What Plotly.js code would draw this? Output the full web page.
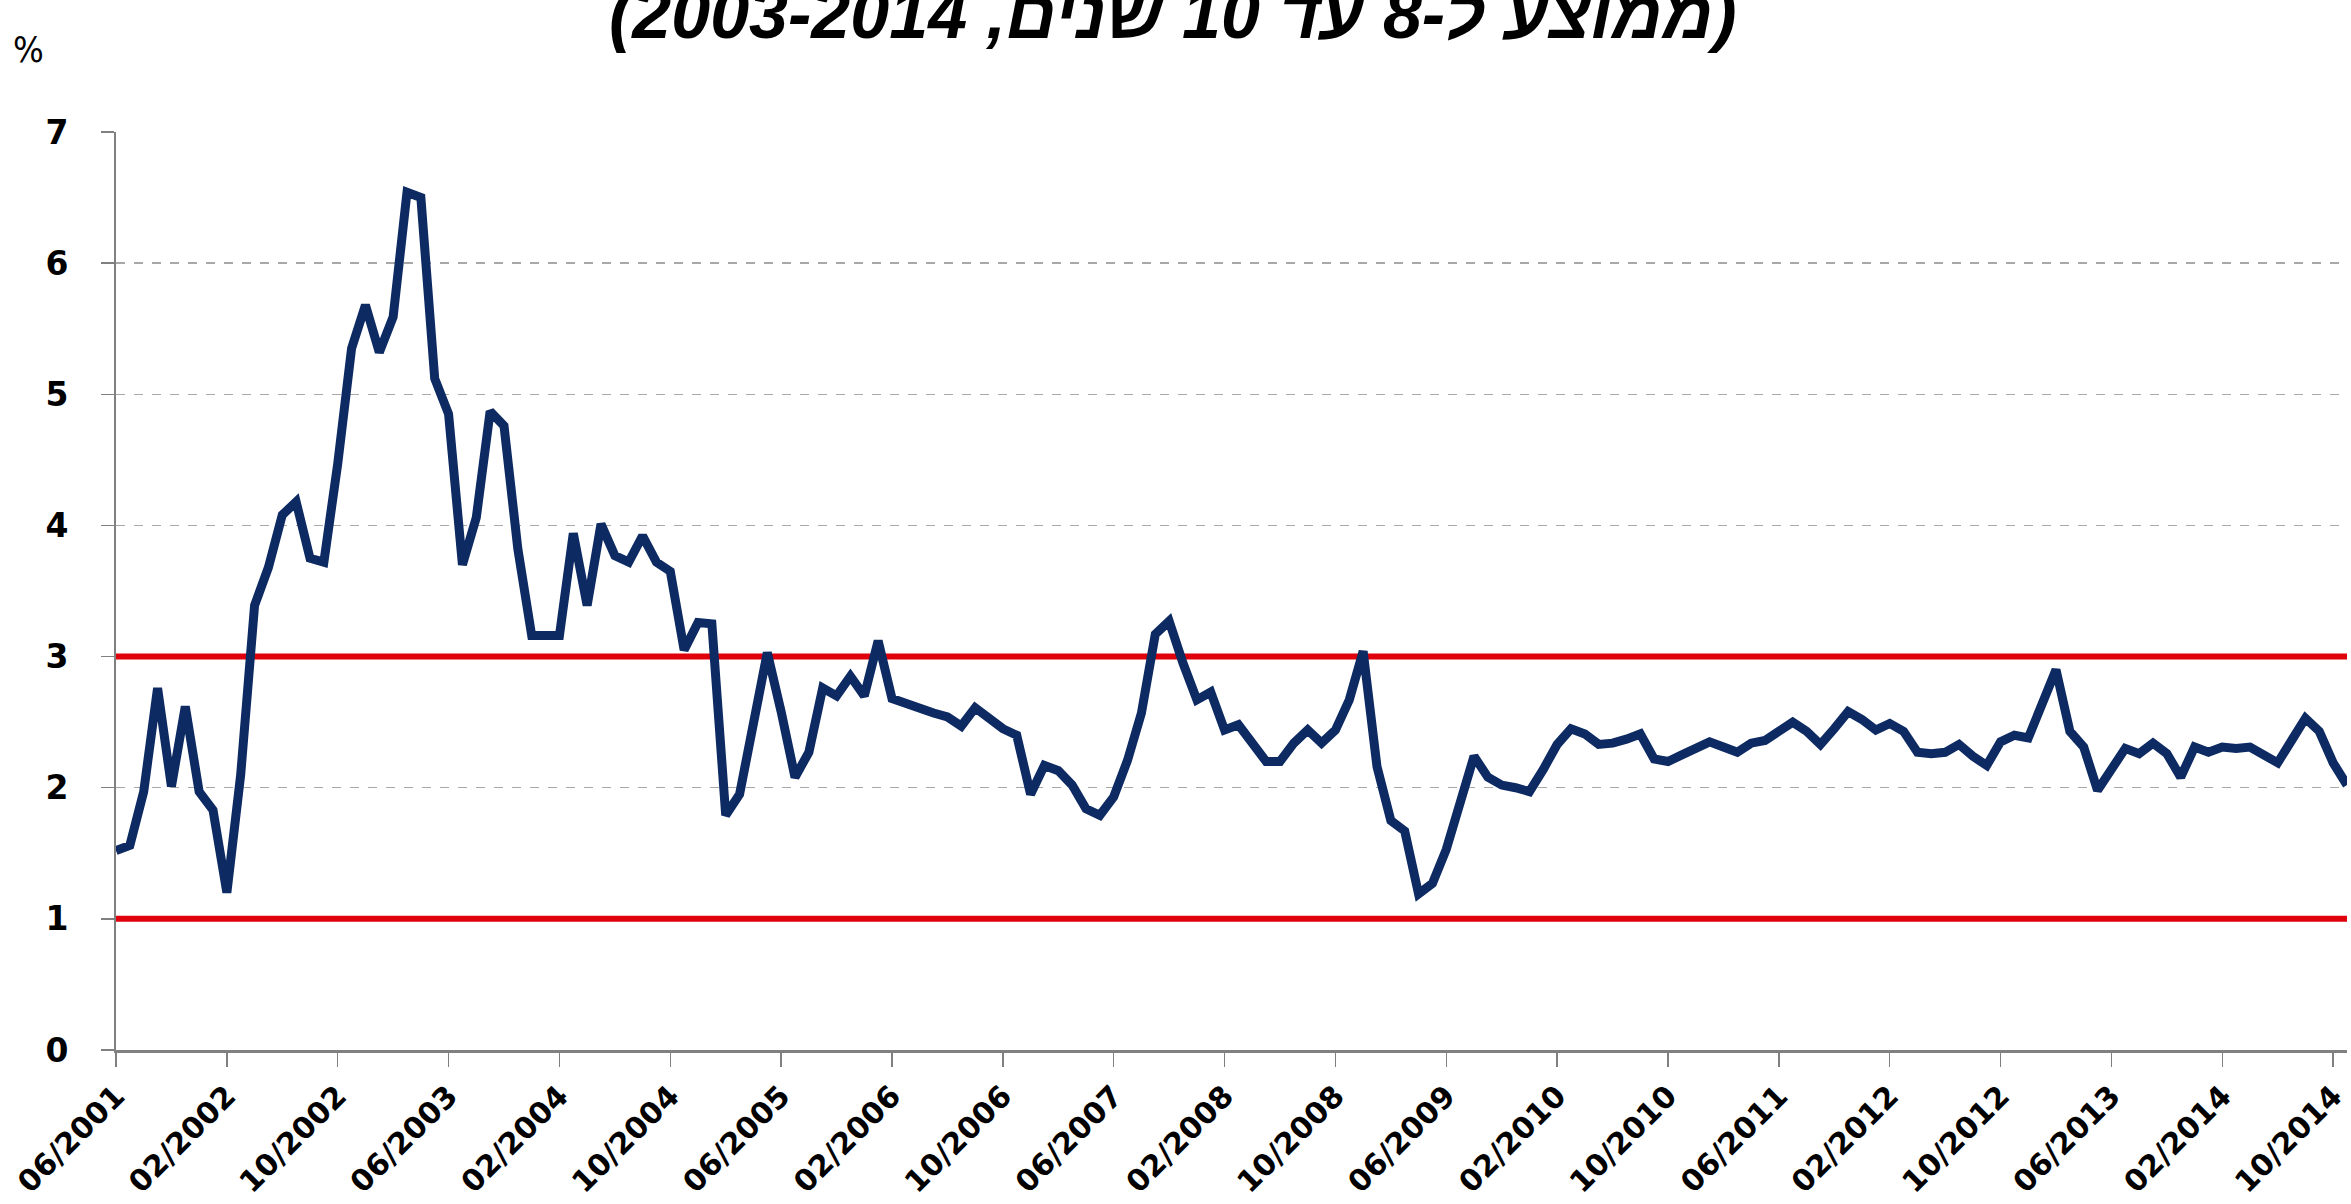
<!DOCTYPE html>
<html>
<head>
<meta charset="utf-8">
<script src="https://cdn.plot.ly/plotly-3.0.1.min.js"></script>
<style>html,body{margin:0;padding:0;background:#fff;}#chart{width:2351px;height:1204px;}</style>
</head>
<body>
<div id="chart"></div>
<script>
// Monthly series, 06/2001 .. 11/2014 (percent)
const firstMonth = {month: 6, year: 2001};
const values = [
  1.52,1.56,1.97,2.76,2.01,2.62,1.97,1.83,1.20,2.10,
  3.39,3.68,4.08,4.18,3.75,3.72,4.47,5.35,5.68,5.32,
  5.59,6.54,6.50,5.12,4.85,3.70,4.06,4.87,4.76,3.82,
  3.16,3.16,3.16,3.94,3.39,4.01,3.77,3.72,3.92,3.72,
  3.65,3.05,3.26,3.25,1.79,1.95,2.45,3.03,2.58,2.08,
  2.27,2.76,2.70,2.85,2.70,3.12,2.68,2.64,2.60,2.57,
  2.54,2.47,2.61,2.53,2.45,2.40,1.95,2.17,2.13,2.02,
  1.84,1.79,1.93,2.21,2.57,3.17,3.27,2.95,2.67,2.73,
  2.44,2.48,2.34,2.20,2.20,2.34,2.44,2.34,2.44,2.67,
  3.04,2.16,1.75,1.67,1.19,1.27,1.53,1.86,2.24,2.08,
  2.02,2.00,1.97,2.14,2.33,2.45,2.41,2.33,2.34,2.37,
  2.41,2.22,2.20,2.25,2.30,2.35,2.31,2.27,2.34,2.36,
  2.43,2.50,2.43,2.33,2.45,2.58,2.52,2.44,2.49,2.43,
  2.27,2.26,2.27,2.33,2.24,2.17,2.35,2.40,2.38,2.62,
  2.90,2.43,2.31,1.98,2.13,2.30,2.26,2.34,2.26,2.08,
  2.31,2.27,2.31,2.30,2.31,2.25,2.19,2.36,2.53,2.43,
  2.19,2.02
];
const tickLabels = ["06/2001","02/2002","10/2002","06/2003","02/2004","10/2004","06/2005",
  "02/2006","10/2006","06/2007","02/2008","10/2008","06/2009","02/2010","10/2010",
  "06/2011","02/2012","10/2012","06/2013","02/2014","10/2014"];
const bandLimits = [1, 3];
const yTicks = [0,1,2,3,4,5,6,7];
const titleText = "\u202B(ממוצע ל-8 עד 10 שנים, 2003-2014)\u202C";
const unitText = "%";

// category labels MM/YYYY
const months = [];
{
  let m = firstMonth.month, y = firstMonth.year;
  for (let i = 0; i < values.length; i++) {
    months.push((m < 10 ? "0" + m : "" + m) + "/" + y);
    m++; if (m > 12) { m = 1; y++; }
  }
}

const traces = [];
bandLimits.forEach(v => {
  traces.push({
    x: [months[0], months[months.length - 1]],
    y: [v, v],
    type: "scatter", mode: "lines",
    line: {color: "#e0000b", width: 6},
    hoverinfo: "skip", showlegend: false
  });
});
traces.push({
  x: months, y: values,
  type: "scatter", mode: "lines",
  line: {color: "#0e2a62", width: 9, shape: "linear"},
  showlegend: false
});

const layout = {
  width: 2351, height: 1204,
  margin: {l: 116, r: 4, t: 132, b: 154},
  paper_bgcolor: "#ffffff", plot_bgcolor: "#ffffff",
  showlegend: false,
  xaxis: {
    type: "category",
    categoryorder: "array", categoryarray: months,
    range: [0, months.length - 1],
    tickmode: "array", tickvals: tickLabels, ticktext: tickLabels,
    tickangle: -45,
    ticks: "outside", ticklen: 14, tickwidth: 1.5, tickcolor: "#808080",
    showline: true, linecolor: "#808080", linewidth: 2.5,
    showgrid: false, zeroline: false,
    tickfont: {family: "DejaVu Sans, Verdana, sans-serif", size: 30, color: "#000", weight: "bold"}
  },
  yaxis: {
    range: [0, 7],
    tickmode: "array", tickvals: yTicks,
    ticks: "outside", ticklen: 13, tickwidth: 1.5, tickcolor: "#808080",
    showline: true, linecolor: "#808080", linewidth: 2,
    showgrid: true, gridcolor: "#a8a8a8", gridwidth: 1.3, griddash: "dash",
    zeroline: false,
    ticklabelstandoff: 26,
    tickfont: {family: "DejaVu Sans, Verdana, sans-serif", size: 33, color: "#000", weight: "bold"}
  },
  annotations: [
    {
      text: titleText, xref: "paper", yref: "paper",
      x: 0.474, y: 1.128, xanchor: "center", yanchor: "middle",
      showarrow: false,
      font: {family: "Liberation Sans, DejaVu Sans, sans-serif", size: 70, color: "#000", weight: "bold", style: "italic"}
    },
    {
      text: unitText, xref: "paper", yref: "paper",
      x: -0.039, y: 1.09, xanchor: "center", yanchor: "middle",
      showarrow: false,
      font: {family: "DejaVu Sans Condensed, DejaVu Sans, sans-serif", size: 36, color: "#000"}
    }
  ]
};

Plotly.newPlot("chart", traces, layout, {displayModeBar: false, staticPlot: true});
</script>
</body>
</html>
